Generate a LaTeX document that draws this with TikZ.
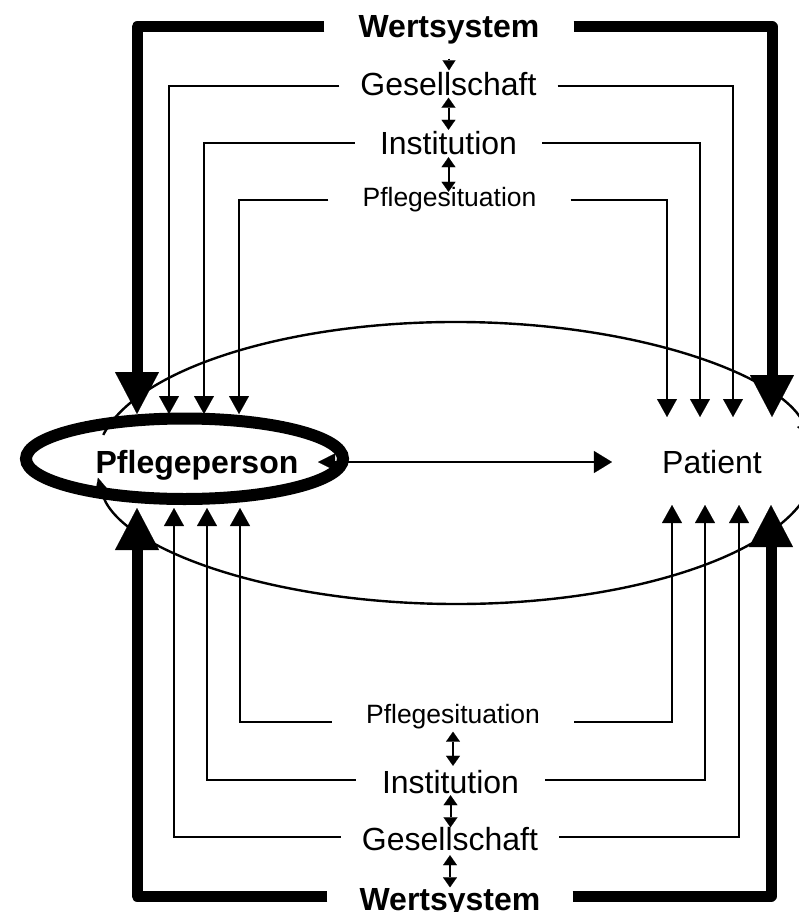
\documentclass[tikz,border=0pt]{standalone}
\usepackage{fontspec}
\setmainfont{Liberation Sans}
\usetikzlibrary{arrows.meta,shapes.geometric}
\begin{document}
\begin{tikzpicture}[x=1pt,y=-1pt,
  big/.style={font=\fontsize{32pt}{38pt}\selectfont, text height=23pt, text depth=0pt, inner ysep=0pt},
  bigb/.style={font=\fontsize{32pt}{38pt}\selectfont\bfseries, text height=23pt, text depth=0pt, inner ysep=0pt},
  small/.style={font=\fontsize{26.5pt}{32pt}\selectfont, text height=19pt, text depth=0pt, inner ysep=0pt},
  thinline/.style={line width=2.2pt},
  thickline/.style={line width=11pt, line join=round},
  sa/.style={-{Triangle[length=18pt,width=20pt,line width=0.1pt]}},
  ba/.style={-{Triangle[length=42pt,width=44pt,line width=0.1pt]}},
  da/.style={{Triangle[length=10pt,width=14pt,line width=0.1pt]}-{Triangle[length=10pt,width=14pt,line width=0.1pt]}, line width=2pt},
  arcline/.style={line width=2.4pt, -{Triangle[length=16pt,width=15pt,line width=0.1pt]}}
]
\useasboundingbox (0,0) rectangle (799,912);

% big circulating ellipse (two arcs)
\draw[arcline] (456,463) ++(191.5:360 and 141) arc[start angle=191.5, end angle=350, x radius=360, y radius=141];
\draw[arcline] (456,463) ++(5:360 and 141) arc[start angle=5, end angle=174, x radius=360, y radius=141];

% text nodes
\node[bigb, inner xsep=34pt] (wt) at (449,26) {Wertsystem};
\node[big, inner xsep=21pt] (gt) at (448.5,84) {Gesellschaft};
\node[big, inner xsep=25pt] (it) at (448.5,143) {Institution};
\node[small, inner xsep=34pt] (pt) at (449.5,197.5) {Pflegesituation};
\node[small, inner xsep=34pt] (pb) at (453,714) {Pflegesituation};
\node[big, inner xsep=26pt] (ib) at (450.5,782) {Institution};
\node[big, inner xsep=21pt] (gb) at (450,839) {Gesellschaft};
\node[bigb, inner xsep=32pt] (wb) at (450,899) {Wertsystem};

\node[ellipse, draw, line width=12pt, minimum width=317pt, minimum height=80.5pt, inner sep=0pt, outer sep=0pt] (pp) at (184.5,458.75) {};
\node[bigb] (pptext) at (197,462) {Pflegeperson};
\node[big, inner xsep=50pt] (pat) at (712,462) {Patient};

% arrow tips
\coordinate (tl0) at (137,414);
\coordinate (tl1) at (169,414);
\coordinate (tl2) at (204,414);
\coordinate (tl3) at (239,414);
\coordinate (tr3) at (667,417);
\coordinate (tr2) at (700,417);
\coordinate (tr1) at (733,417);
\coordinate (tr0) at (772,417);
\coordinate (bl0) at (137,508);
\coordinate (bl1) at (174,508);
\coordinate (bl2) at (207,508);
\coordinate (bl3) at (240,508);
\coordinate (br3) at (672,505);
\coordinate (br2) at (705,505);
\coordinate (br1) at (739,505);
\coordinate (br0) at (771,505);

% thick Wertsystem connectors
\draw[thickline,ba] ([yshift=-1pt]wt.west) -| (tl0);
\draw[thickline,ba] ([yshift=-1pt]wt.east) -| (tr0);
\draw[thickline,ba] ([yshift=3pt]wb.west) -| (bl0);
\draw[thickline,ba] ([yshift=3pt]wb.east) -| (br0);

% thin connectors top
\draw[thinline,sa] ([yshift=-2pt]gt.west) -| (tl1);
\draw[thinline,sa] ([yshift=-2pt]gt.east) -| (tr1);
\draw[thinline,sa] (it.west) -| (tl2);
\draw[thinline,sa] (it.east) -| (tr2);
\draw[thinline,sa] ([yshift=-2.5pt]pt.west) -| (tl3);
\draw[thinline,sa] ([yshift=-2.5pt]pt.east) -| (tr3);

% thin connectors bottom
\draw[thinline,sa] ([yshift=-8pt]pb.west) -| (bl3);
\draw[thinline,sa] ([yshift=-8pt]pb.east) -| (br3);
\draw[thinline,sa] ([yshift=2pt]ib.west) -| (bl2);
\draw[thinline,sa] ([yshift=2pt]ib.east) -| (br2);
\draw[thinline,sa] ([yshift=2pt]gb.west) -| (bl1);
\draw[thinline,sa] ([yshift=2pt]gb.east) -| (br1);

% small vertical arrows between labels
\draw[line width=2pt, -{Triangle[length=10pt,width=13pt,line width=0.1pt]}, shorten <=21pt, shorten >=2pt] (wt.south) -- (wt.south |- gt.north);
\draw[da, shorten <=2pt, shorten >=1.5pt] (gt.south) -- (gt.south |- it.north);
\draw[da, shorten <=2.5pt, shorten >=-4pt] (it.south) -- (it.south |- pt.north);
\draw[da, shorten <=8pt, shorten >=4.5pt] (pb.south) -- (pb.south |- ib.north);
\draw[da, shorten <=1.5pt] (ib.south) -- (ib.south |- gb.north);
\draw[da, shorten <=4.5pt] (gb.south) -- (gb.south |- wb.north);

% Pflegeperson -> Patient
\coordinate (ppr) at ([xshift=-25pt]pp.east);
\draw[line width=2.2pt, {Triangle[length=17pt,width=17pt,line width=0.1pt]}-{Triangle[length=18pt,width=22pt,line width=0.1pt]}] (ppr |- pat.west) -- (pat.west);
\end{tikzpicture}
\end{document}
